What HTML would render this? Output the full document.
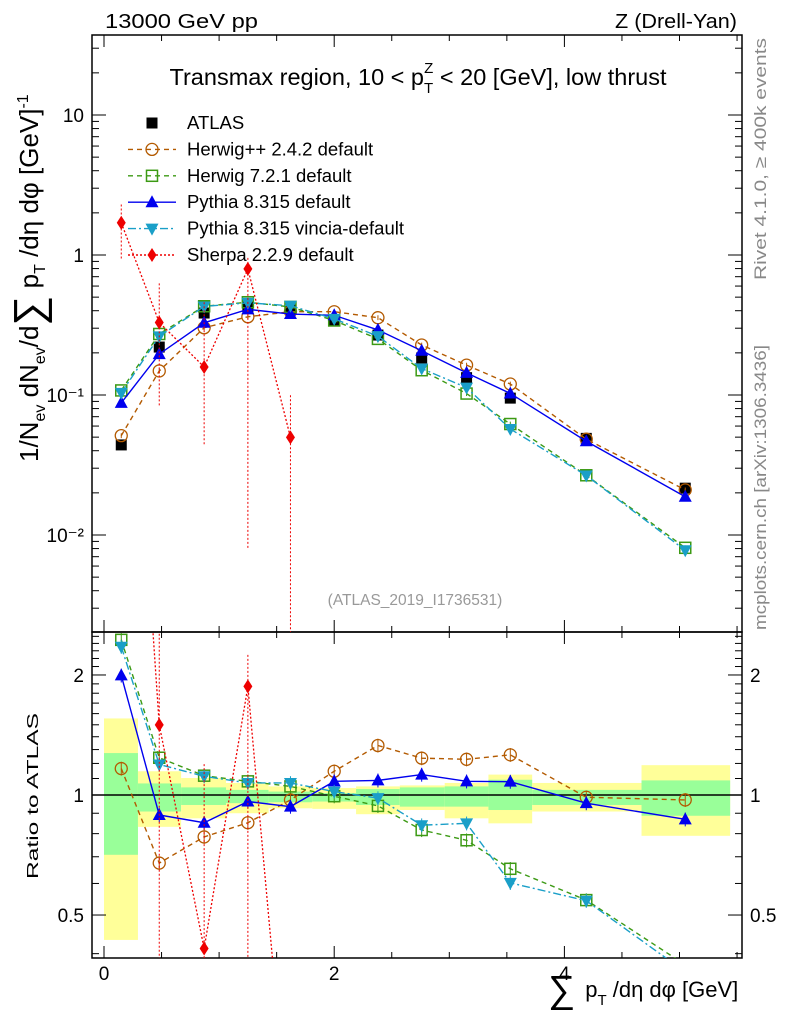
<!DOCTYPE html>
<html><head><meta charset="utf-8"><style>
html,body{margin:0;background:#fff;overflow:hidden;width:786px;height:1024px}
svg{display:block;font-family:"Liberation Sans",sans-serif;overflow:hidden}
</style></head><body>
<svg id="chart" width="786" height="1024" viewBox="0 0 786 1024">
<text x="105" y="28" font-size="20" textLength="153" lengthAdjust="spacingAndGlyphs">13000 GeV pp</text>
<text x="737" y="28" font-size="20" text-anchor="end" textLength="122" lengthAdjust="spacingAndGlyphs">Z (Drell-Yan)</text>
<text x="418" y="85" font-size="23.5" text-anchor="middle">Transmax region, 10 &lt; p<tspan font-size="15" dy="8">T</tspan><tspan font-size="15" dx="-9" dy="-20">Z</tspan><tspan dy="12"> &lt; 20 [GeV], low thrust</tspan></text>
<text x="415" y="605" font-size="15.5" fill="#999" text-anchor="middle">(ATLAS_2019_I1736531)</text>
<text transform="translate(766,280) rotate(-90)" font-size="17" fill="#888" textLength="242" lengthAdjust="spacingAndGlyphs">Rivet 4.1.0, ≥ 400k events</text>
<text transform="translate(766,630) rotate(-90)" font-size="17" fill="#888" textLength="285" lengthAdjust="spacingAndGlyphs">mcplots.cern.ch [arXiv:1306.3436]</text>
<text transform="translate(38,462) rotate(-90)" font-size="26">1/N<tspan font-size="16" dy="7">ev</tspan><tspan dy="-7"> dN</tspan><tspan font-size="16" dy="7">ev</tspan><tspan dy="-7">/d</tspan><tspan font-size="42" dy="5">∑</tspan><tspan dy="-5"> p</tspan><tspan font-size="16" dy="7">T</tspan><tspan dy="-7"> /dη dφ  [GeV]</tspan><tspan font-size="16" dy="-10">-1</tspan></text>
<text transform="translate(38,879) rotate(-90)" font-size="16" textLength="166" lengthAdjust="spacingAndGlyphs">Ratio to ATLAS</text>
<text x="548" y="997" font-size="22"><tspan font-size="38" dy="5">∑</tspan><tspan dx="4" dy="-5"> p</tspan><tspan font-size="15" dy="8">T</tspan><tspan dy="-8"> /dη dφ [GeV]</tspan></text>
<g id="bands"></g>
<g id="axes"></g>
<g id="series"></g>
<g id="legend"></g>
</svg>
<script>
const xCenters=[0.15,0.48,0.87,1.25,1.62,2.0,2.38,2.76,3.15,3.53,4.19,5.05];
const binEdges=[0,0.295,0.67,1.06,1.43,1.81,2.19,2.57,2.96,3.34,3.72,4.67,5.44];
const atlas=[0.044,0.22,0.385,0.425,0.405,0.343,0.268,0.184,0.133,0.095,0.049,0.0216];
const yellowHi=[1.556,1.147,1.103,1.072,1.051,1.041,1.051,1.057,1.072,1.125,1.072,1.188];
const yellowLo=[0.433,0.832,0.874,0.90,0.926,0.923,0.895,0.917,0.874,0.849,0.909,0.79];
const greenHi=[1.274,1.069,1.045,1.03,1.02,1.011,1.035,1.045,1.051,1.092,1.03,1.088];
const greenLo=[0.708,0.909,0.944,0.954,0.959,0.963,0.944,0.935,0.935,0.917,0.944,0.887];
const herwigppRatio=[1.165,0.675,0.785,0.852,0.972,1.147,1.331,1.237,1.229,1.261,0.987,0.972];
const herwig7Ratio=[2.45,1.24,1.118,1.082,1.051,0.993,0.939,0.817,0.77,0.653,0.545,0.375];
const pythiaRatio=[1.995,0.891,0.852,0.963,0.935,1.082,1.088,1.125,1.082,1.08,0.954,0.869];
const vinciaRatio=[2.354,1.193,1.114,1.072,1.072,1.02,0.982,0.84,0.849,0.602,0.543,0.36];
const sherpaX=[0.15,0.48,0.87,1.25,1.62];
const sherpaRatio=[38.6,1.499,0.412,1.872,0.123];
const sherpaErrUp=[1.35,1.9,2.9,1.2,2.0];
const sherpaErrDn=[0.55,0.25,0.28,0.01,0.01];
const yTickMain=[["10",10],["1",1],["10⁻¹",0.1],["10⁻²",0.01]];
const ratioTicks=[["2",2],["1",1],["0.5",0.5]];
const xTicks=[0,2,4];

const NS="http://www.w3.org/2000/svg";
const L=92,R=742,MT=35,MB=632,RT=632,RB=958;
const X=v=>104+v*115.1;
const YM=v=>255-140*Math.log10(v);
const YR=v=>795-398.7*Math.log10(v);
function mk(tag,attrs,parent){const e=document.createElementNS(NS,tag);for(const k in attrs)e.setAttribute(k,attrs[k]);parent.appendChild(e);return e;}
const gB=document.getElementById('bands'),gA=document.getElementById('axes'),gS=document.getElementById('series'),gL=document.getElementById('legend');
const clipM=mk('clipPath',{id:'cm'},gA);mk('rect',{x:L,y:MT,width:R-L,height:MB-MT},clipM);
const clipR=mk('clipPath',{id:'cr'},gA);mk('rect',{x:L,y:RT,width:R-L,height:RB-RT},clipR);

for(let i=0;i<binEdges.length-1;i++){
  const x0=X(binEdges[i]),w=X(binEdges[i+1])-x0;
  const y=mk('rect',{x:x0,y:YR(yellowHi[i]),width:w,height:YR(yellowLo[i])-YR(yellowHi[i]),fill:'#ffff99'},gB);
  
  
  const g=mk('rect',{x:x0,y:YR(greenHi[i]),width:w,height:YR(greenLo[i])-YR(greenHi[i]),fill:'#99ff99'},gB);
  
  
}
mk('line',{x1:L,x2:R,y1:YR(1),y2:YR(1),stroke:'#000','stroke-width':1.5},gA);

mk('rect',{x:L,y:MT,width:R-L,height:MB-MT,fill:'none',stroke:'#000','stroke-width':1.5},gA);
mk('rect',{x:L,y:RT,width:R-L,height:RB-RT,fill:'none',stroke:'#000','stroke-width':1.5},gA);
for(let v=0;v<=5.5;v+=0.5){const x=X(v);const maj=Math.abs(v%2)<1e-6;const len=maj?12:6;
 for(const [t,b] of [[MT,MB],[RT,RB]]){mk('line',{x1:x,x2:x,y1:b,y2:b-len,stroke:'#000'},gA);mk('line',{x1:x,x2:x,y1:t,y2:t+len,stroke:'#000'},gA);}}
xTicks.forEach(v=>{const t=mk('text',{x:X(v),y:980,'font-size':19,'text-anchor':'middle'},gA);t.textContent=v;
 
 });
for(let e=-3;e<=1;e++)for(let m=1;m<10;m++){const v=m*Math.pow(10,e);const y=YM(v);if(y<MT||y>MB)continue;const len=m==1?14:7;
 mk('line',{x1:L,x2:L+len,y1:y,y2:y,stroke:'#000'},gA);mk('line',{x1:R,x2:R-len,y1:y,y2:y,stroke:'#000'},gA);}
yTickMain.forEach(([s,v])=>{const t=mk('text',{x:84,y:YM(v)+7,'font-size':19,'text-anchor':'end'},gA);t.textContent=s;
 
 });
for(let v=0.4;v<=2.55;v+=0.1){const y=YR(v);if(y<RT||y>RB)continue;const maj=[0.5,1,2].some(m=>Math.abs(m-v)<1e-6);const len=maj?14:7;
 mk('line',{x1:L,x2:L+len,y1:y,y2:y,stroke:'#000'},gA);mk('line',{x1:R,x2:R-len,y1:y,y2:y,stroke:'#000'},gA);}
ratioTicks.forEach(([s,v])=>{const a=mk('text',{x:84,y:YR(v)+7,'font-size':19,'text-anchor':'end'},gA);a.textContent=s;
 
 
 const b=mk('text',{x:750,y:YR(v)+7,'font-size':19},gA);b.textContent=s;
 
 });

function marker(shape,x,y,color,p){
 if(shape=='sq')return mk('rect',{x:x-5.5,y:y-5.5,width:11,height:11,fill:'#000'},p);
 if(shape=='circ')return mk('circle',{cx:x,cy:y,r:6,fill:'none',stroke:color,'stroke-width':1.3},p);
 if(shape=='osq')return mk('rect',{x:x-5.5,y:y-5.5,width:11,height:11,fill:'none',stroke:color,'stroke-width':1.5},p);
 if(shape=='tri')return mk('path',{d:`M${x},${y-7}L${x+6.5},${y+5}L${x-6.5},${y+5}Z`,fill:color},p);
 if(shape=='itri')return mk('path',{d:`M${x},${y+7}L${x+6.5},${y-5}L${x-6.5},${y-5}Z`,fill:color},p);
 if(shape=='dia')return mk('path',{d:`M${x},${y-7}L${x+4.5},${y}L${x},${y+7}L${x-4.5},${y}Z`,fill:color},p);
}
const series=[
 {name:'herwigpp',r:herwigppRatio,c:'#b35a00',dash:'5,4',shape:'circ',label:'Herwig++ 2.4.2 default'},
 {name:'herwig7',r:herwig7Ratio,c:'#3c9a14',dash:'5,4',shape:'osq',label:'Herwig 7.2.1 default'},
 {name:'pythia',r:pythiaRatio,c:'#0000ee',dash:'',shape:'tri',label:'Pythia 8.315 default'},
 {name:'vincia',r:vinciaRatio,c:'#1a9fc8',dash:'8,3,2,3',shape:'itri',label:'Pythia 8.315 vincia-default'},
];
function drawSeries(xs,ratios,c,dash,shape,name,errU,errD){
 const gm=mk('g',{'clip-path':'url(#cm)'},gS);
 
 
 const gr=mk('g',{'clip-path':'url(#cr)'},gS);
 
 
 const pm=xs.map((x,i)=>`${X(x)},${YM(ratios[i]*atlas[i])}`).join(' ');
 const pr=xs.map((x,i)=>`${X(x)},${YR(ratios[i])}`).join(' ');
 const sw=shape=='dia'?1.3:1.4;
 mk('polyline',{points:pm,fill:'none',stroke:c,'stroke-width':sw,'stroke-dasharray':dash},gm);
 mk('polyline',{points:pr,fill:'none',stroke:c,'stroke-width':sw,'stroke-dasharray':dash},gr);
 xs.forEach((x,i)=>{const v=ratios[i]*atlas[i];
  const u=errU?errU[i]:1.04,d=errD?errD[i]:0.96;
  mk('line',{x1:X(x),x2:X(x),y1:YM(v*u),y2:YM(v*d),stroke:c,'stroke-dasharray':errU?'2,2':''},gm);
  mk('line',{x1:X(x),x2:X(x),y1:YR(ratios[i]*u),y2:YR(ratios[i]*d),stroke:c,'stroke-dasharray':errU?'2,2':''},gr);
  const m1=marker(shape,X(x),YM(v),c,gm);
  
  
  const m2=marker(shape,X(x),YR(ratios[i]),c,gr);
  
  });
}
xCenters.forEach((x,i)=>{const m=marker('sq',X(x),YM(atlas[i]),'#000',gS);
 
 });
series.forEach(s=>drawSeries(xCenters,s.r,s.c,s.dash,s.shape,s.name));
drawSeries(sherpaX,sherpaRatio,'#ee0000','2,2','dia','sherpa',sherpaErrUp,sherpaErrDn);

const leg=[{label:'ATLAS',shape:'sq',c:'#000',dash:null}].concat(series).concat([{label:'Sherpa 2.2.9 default',shape:'dia',c:'#ee0000',dash:'2,2'}]);
leg.forEach((s,i)=>{const y=123+i*26.4;
 const g=mk('g',{},gL);
 
 
 if(s.dash!==null&&s.dash!==undefined)mk('line',{x1:128,x2:176,y1:y,y2:y,stroke:s.c,'stroke-width':1.4,'stroke-dasharray':s.dash},g);
 marker(s.shape,152,y,s.c,g);
 const t=mk('text',{x:187,y:y+6,'font-size':18.5},g);t.textContent=s.label;});
</script>
</body></html>
